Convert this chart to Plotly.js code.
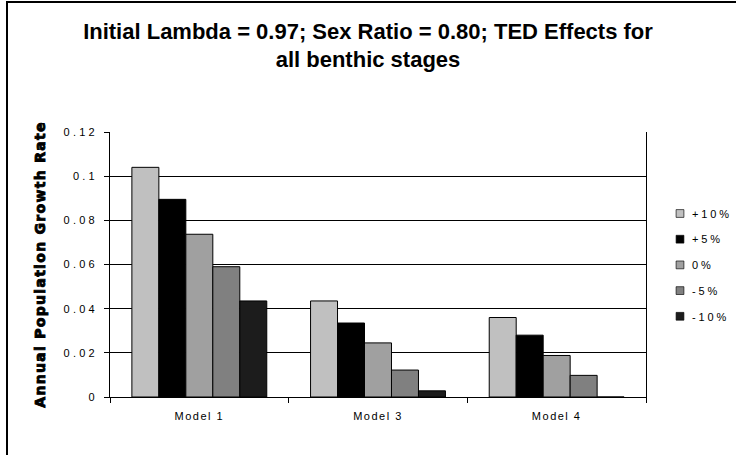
<!DOCTYPE html>
<html>
<head>
<meta charset="utf-8">
<script src="https://cdn.plot.ly/plotly-3.0.1.min.js"></script>
<style>
html,body{margin:0;padding:0;background:#fff;}
#chart{width:736px;height:455px;}
.xtick text { letter-spacing: 1.5px; }
.ytick text { letter-spacing: 3.2px; }
.legendtext { letter-spacing: 2.9px; }
.ytitle { letter-spacing: 1.3px; stroke: #000; stroke-width: 0.9px; }
.legendpoints path { transform-box: fill-box; transform-origin: center; scale: 0.65; translate: 15px 0; }
</style>
</head>
<body>
<div id="chart"></div>
<script>
const categories = ["Model 1", "Model 3", "Model 4"];
const seriesNames = ["+10%", "+5%", "0%", "-5%", "-10%"];
const plus10 = [0.104, 0.0435, 0.036];
const plus5 = [0.0895, 0.0335, 0.028];
const zero = [0.0737, 0.0245, 0.0188];
const minus5 = [0.059, 0.0122, 0.0098];
const minus10 = [0.0435, 0.0028, 0];
const seriesValues = [plus10, plus5, zero, minus5, minus10];
const seriesColors = ["#c0c0c0", "#000000", "#a0a0a0", "#808080", "#1c1c1c"];
const yTicks = [0, 0.02, 0.04, 0.06, 0.08, 0.1, 0.12];
const yTickLabels = ["0", "0.02", "0.04", "0.06", "0.08", "0.1", "0.12"];

const traces = seriesNames.map((name, i) => ({
  type: "bar",
  name: name,
  x: categories,
  y: seriesValues[i],
  legendgroup: "g" + i,
  marker: { color: seriesColors[i], line: { color: "#000", width: 1 } },
  hoverinfo: "x+y+name"
}));

const FW = 736, FH = 455;
const L = 110, R = 90, T = 132, B = 58;
const W = FW - L - R, H = FH - T - B;
const px = v => (v - L) / W;
const py = v => (FH - B - v) / H;

const layout = {
  width: FW, height: FH,
  margin: { l: L, r: R, t: T, b: B, pad: 0, autoexpand: false },
  paper_bgcolor: "#fff", plot_bgcolor: "#fff",
  font: { family: "Liberation Sans, Arial, sans-serif", color: "#000", size: 11 },
  title: {
    text: "Initial Lambda = 0.97; Sex Ratio = 0.80; TED Effects for<br>all benthic stages",
    font: { family: "Liberation Sans, Arial, sans-serif", size: 22, weight: "bold", color: "#000" },
    x: 0.5, xref: "container", xanchor: "center",
    y: 0.915, yref: "container", yanchor: "top"
  },
  barmode: "group", bargap: 0.245, bargroupgap: 0,
  showlegend: true,
  legend: {
    xref: "container", yref: "container",
    x: 652 / FW, xanchor: "left", y: 1 - 199 / FH, yanchor: "top",
    font: { size: 11, family: "Liberation Sans, Arial, sans-serif" },
    tracegroupgap: 6.7, traceorder: "grouped", bgcolor: "rgba(0,0,0,0)"
  },
  xaxis: {
    type: "category", automargin: false,
    showline: true, linecolor: "#000", linewidth: 1,
    ticks: "outside", tickson: "boundaries", ticklen: 5, tickcolor: "#000",
    tickfont: { size: 11, color: "#000" },
    ticklabelstandoff: 9,
    showgrid: false, zeroline: false
  },
  yaxis: {
    range: [0, 0.12], automargin: false,
    tickvals: yTicks, ticktext: yTickLabels,
    showline: true, linecolor: "#000", linewidth: 1, mirror: true,
    ticks: "outside", ticklen: 5, tickcolor: "#000",
    tickfont: { size: 11, color: "#000" },
    ticklabelstandoff: 4,
    showgrid: true, gridcolor: "#000", gridwidth: 1,
    zeroline: false,
    title: {
      text: "Annual Population Growth Rate",
      font: { family: "DejaVu Sans, sans-serif", size: 14, weight: "bold", color: "#000" },
      standoff: 14
    }
  },
  shapes: [
    { type: "line", xref: "paper", yref: "paper", x0: px(7), x1: px(7), y0: py(2), y1: py(460), line: { color: "#000", width: 2 } },
    { type: "line", xref: "paper", yref: "paper", x0: px(6), x1: px(740), y0: py(2), y1: py(2), line: { color: "#000", width: 2 } }
  ]
};

Plotly.newPlot("chart", traces, layout, { displayModeBar: false, staticPlot: true });
</script>
</body>
</html>
